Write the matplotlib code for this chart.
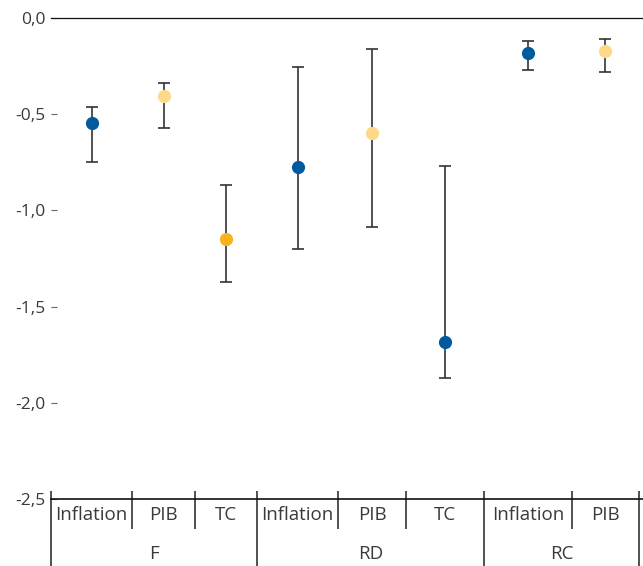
import matplotlib
matplotlib.use("Agg")
import matplotlib.pyplot as plt
import matplotlib.transforms as mtransforms

# ---- data ----
groups = ["F", "RD", "RC"]
group_sizes = [3, 3, 2]
subcats = ["Inflation", "PIB", "TC", "Inflation", "PIB", "TC", "Inflation", "PIB"]
values = [-0.547, -0.405, -1.149, -0.774, -0.598, -1.684, -0.184, -0.170]
upper = [-0.461, -0.339, -0.868, -0.255, -0.161, -0.769, -0.118, -0.109]
lower = [-0.747, -0.572, -1.372, -1.201, -1.086, -1.871, -0.269, -0.281]
yticks = [0.0, -0.5, -1.0, -1.5, -2.0, -2.5]
ytick_labels = ["0,0", "-0,5", "-1,0", "-1,5", "-2,0", "-2,5"]

# ---- style / layout ----
BLUE = "#005A9E"
LIGHT = "#FFD98A"
ORANGE = "#F9B21D"
colors = [BLUE, LIGHT, ORANGE, BLUE, LIGHT, BLUE, BLUE, LIGHT]
cat_widths = [81.8, 62.3, 62.2, 81.4, 67.6, 78.2, 87.5, 67.6]  # layout widths (px)
x_extra = 3.7
TXT = "#3a3a3a"
LINE = "#333333"

plt.rcParams["font.family"] = ["Open Sans", "DejaVu Sans"]

W, H = 643, 566
fig = plt.figure(figsize=(W / 100, H / 100), dpi=100)
ax_left, ax_right = 50.7, 643
ax_top, ax_bot = 18, 499
ax = fig.add_axes([ax_left / W, 1 - ax_bot / H, (ax_right - ax_left) / W, (ax_bot - ax_top) / H])

bounds = [0.0]
for w in cat_widths:
    bounds.append(bounds[-1] + w)
centers = [(bounds[i] + bounds[i + 1]) / 2 for i in range(len(cat_widths))]

for i, (xc, v, up, lo, c) in enumerate(zip(centers, values, upper, lower, colors)):
    ax.errorbar([xc], [v], yerr=[[v - lo], [up - v]], fmt="none", ecolor=LINE,
                elinewidth=1.2, capsize=4.3, capthick=1.2, zorder=2)
    ax.plot([xc], [v], marker="o", markersize=9.5, color=c, markeredgewidth=0, zorder=3)

ax.set_xlim(0, bounds[-1] + x_extra)
ax.set_ylim(-2.5, 0)
ax.set_yticks(yticks)
ax.set_yticklabels(ytick_labels, color=TXT, fontsize=12.5)
ax.tick_params(axis="y", direction="in", length=4.5, width=0.8, color="#666666", pad=4)
ax.set_xticks([])
for s in ["left", "right"]:
    ax.spines[s].set_visible(False)
ax.spines["top"].set_color("#111111")
ax.spines["top"].set_linewidth(0.9)
ax.spines["bottom"].set_color("#111111")
ax.spines["bottom"].set_linewidth(1.2)

ah = ax_bot - ax_top
def yfrac(ypx):
    return (ax_bot - ypx) / ah

trans = mtransforms.blended_transform_factory(ax.transData, ax.transAxes)

# separators
group_edges = [0]
for g in group_sizes:
    group_edges.append(group_edges[-1] + g)
for i, b in enumerate(bounds):
    is_group = i in group_edges
    ybot = yfrac(570) if is_group else yfrac(529)
    ax.plot([b, b], [yfrac(491), ybot], transform=trans, color="#222222", lw=1.1,
            clip_on=False, solid_capstyle="butt")

# subcategory labels
for xc, lab in zip(centers, subcats):
    ax.text(xc, yfrac(515), lab, transform=trans, ha="center", va="center",
            fontsize=13.5, color=TXT, clip_on=False)

# group labels
for gi, g in enumerate(groups):
    x0 = bounds[group_edges[gi]]
    x1 = bounds[group_edges[gi + 1]]
    ax.text((x0 + x1) / 2, yfrac(563), g, transform=trans, ha="center", va="bottom",
            fontsize=13.5, color=TXT, clip_on=False)

fig.savefig("out.png", dpi=100)
